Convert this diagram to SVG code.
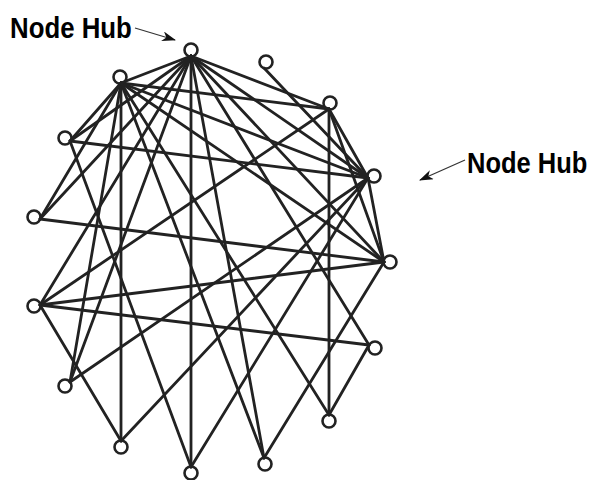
<svg xmlns="http://www.w3.org/2000/svg" width="594" height="480" viewBox="0 0 594 480">
<defs>
<style>
.e{stroke:#222;stroke-width:2.8;fill:none;stroke-linecap:round}
.n{stroke:#222;stroke-width:2.6;fill:none}
.lbl{font-family:"Liberation Sans",Arial,sans-serif;font-weight:bold;font-size:30px;fill:#000}
.ar{stroke:#333;stroke-width:1.2;fill:none}
</style>
<marker id="ah" viewBox="0 0 14 10" refX="13" refY="5" markerWidth="14" markerHeight="10" markerUnits="userSpaceOnUse" orient="auto">
<path d="M0,0 L14,5 L0,10 L4,5 Z" fill="#111"/>
</marker>
</defs>
<rect width="594" height="480" fill="#fff"/>
<g id="connectors">
<line class="e" x1="191" y1="56" x2="121" y2="83"/>
<line class="e" x1="191" y1="56" x2="70" y2="141"/>
<line class="e" x1="191" y1="56" x2="40" y2="219"/>
<line class="e" x1="191" y1="56" x2="40" y2="305"/>
<line class="e" x1="191" y1="56" x2="70" y2="382"/>
<line class="e" x1="191" y1="56" x2="191" y2="467"/>
<line class="e" x1="191" y1="56" x2="264" y2="458"/>
<line class="e" x1="191" y1="56" x2="369" y2="345"/>
<line class="e" x1="191" y1="56" x2="384" y2="262"/>
<line class="e" x1="191" y1="56" x2="368" y2="178"/>
<line class="e" x1="191" y1="56" x2="329" y2="109"/>
<line class="e" x1="264" y1="68" x2="368" y2="178"/>
<line class="e" x1="121" y1="83" x2="329" y2="109"/>
<line class="e" x1="121" y1="83" x2="368" y2="178"/>
<line class="e" x1="121" y1="83" x2="70" y2="141"/>
<line class="e" x1="121" y1="83" x2="40" y2="219"/>
<line class="e" x1="121" y1="83" x2="70" y2="382"/>
<line class="e" x1="121" y1="83" x2="121" y2="441"/>
<line class="e" x1="121" y1="83" x2="264" y2="458"/>
<line class="e" x1="121" y1="83" x2="329" y2="415"/>
<line class="e" x1="121" y1="83" x2="384" y2="262"/>
<line class="e" x1="329" y1="109" x2="368" y2="178"/>
<line class="e" x1="329" y1="109" x2="384" y2="262"/>
<line class="e" x1="329" y1="109" x2="329" y2="415"/>
<line class="e" x1="329" y1="109" x2="40" y2="305"/>
<line class="e" x1="70" y1="141" x2="368" y2="178"/>
<line class="e" x1="70" y1="141" x2="191" y2="467"/>
<line class="e" x1="368" y1="178" x2="384" y2="262"/>
<line class="e" x1="368" y1="178" x2="191" y2="467"/>
<line class="e" x1="368" y1="178" x2="70" y2="382"/>
<line class="e" x1="368" y1="178" x2="121" y2="441"/>
<line class="e" x1="40" y1="219" x2="384" y2="262"/>
<line class="e" x1="40" y1="305" x2="384" y2="262"/>
<line class="e" x1="40" y1="305" x2="369" y2="345"/>
<line class="e" x1="40" y1="305" x2="121" y2="441"/>
<line class="e" x1="369" y1="345" x2="329" y2="415"/>
<line class="e" x1="264" y1="458" x2="384" y2="262"/>
</g>
<g id="nA"><circle class="n" cx="191" cy="50" r="6.5"/></g>
<g id="nB"><circle class="n" cx="266" cy="62" r="6.5"/></g>
<g id="nC"><circle class="n" cx="120" cy="77" r="6.5"/></g>
<g id="nD"><circle class="n" cx="330" cy="103" r="6.5"/></g>
<g id="nE"><circle class="n" cx="65" cy="138" r="6.5"/></g>
<g id="nF"><circle class="n" cx="374" cy="176" r="6.5"/></g>
<g id="nG"><circle class="n" cx="34" cy="217" r="6.5"/></g>
<g id="nH"><circle class="n" cx="390" cy="262" r="6.5"/></g>
<g id="nI"><circle class="n" cx="34" cy="306" r="6.5"/></g>
<g id="nJ"><circle class="n" cx="375" cy="348" r="6.5"/></g>
<g id="nK"><circle class="n" cx="65" cy="386" r="6.5"/></g>
<g id="nL"><circle class="n" cx="329" cy="421" r="6.5"/></g>
<g id="nM"><circle class="n" cx="121" cy="447" r="6.5"/></g>
<g id="nN"><circle class="n" cx="265" cy="464" r="6.5"/></g>
<g id="nO"><circle class="n" cx="191" cy="473" r="6.5"/></g>
<g id="label1">
<text class="lbl" transform="translate(10,38) scale(0.86,1)" x="0" y="0">Node Hub</text>
<line class="ar" x1="135" y1="28" x2="175" y2="40" marker-end="url(#ah)"/>
</g>
<g id="label2">
<text class="lbl" transform="translate(467,173) scale(0.85,1)" x="0" y="0">Node Hub</text>
<line class="ar" x1="465" y1="160" x2="420" y2="180" marker-end="url(#ah)"/>
</g>
</svg>
